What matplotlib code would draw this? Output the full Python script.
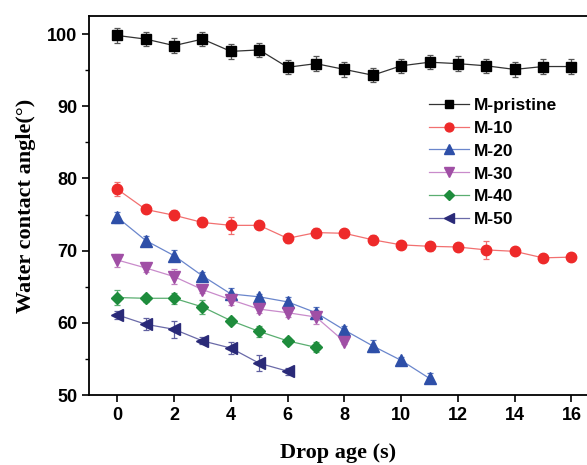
import numpy as np
import matplotlib
matplotlib.use("Agg")
from matplotlib import pyplot as plt
from matplotlib.lines import Line2D

# drop age (s)
t_pristine = list(range(17))
t_m10 = list(range(17))
t_m20 = list(range(12))
t_m30 = list(range(9))
t_m40 = list(range(8))
t_m50 = list(range(7))

pristine = [99.8, 99.3, 98.4, 99.3, 97.6, 97.8, 95.4, 95.9, 95.1, 94.3, 95.6, 96.1, 95.9, 95.6, 95.1, 95.5, 95.5]
pristine_err = [1.0, 1.0, 1.0, 1.0, 1.0, 1.0, 1.0, 1.0, 1.0, 1.0, 1.0, 1.0, 1.0, 1.0, 1.0, 1.0, 1.0]
m10 = [78.5, 75.7, 74.9, 73.9, 73.5, 73.5, 71.7, 72.5, 72.4, 71.5, 70.8, 70.6, 70.5, 70.1, 69.9, 69.0, 69.1]
m10_err = [1.0, 0.3, 0.7, 0.6, 1.2, 0.3, 0.6, 0.6, 0.3, 0.6, 0.4, 0.6, 0.5, 1.2, 0.3, 0.6, 0.6]
m20 = [74.6, 71.4, 69.3, 66.5, 64.0, 63.6, 62.9, 61.4, 59.0, 56.8, 54.8, 52.3]
m20_err = [0.8, 0.6, 0.8, 0.5, 0.8, 0.4, 0.7, 0.8, 0.5, 0.8, 0.4, 0.7]
m30 = [68.7, 67.6, 66.4, 64.6, 63.2, 61.9, 61.4, 60.8, 57.4]
m30_err = [0.9, 0.5, 1.0, 0.5, 0.8, 0.5, 0.6, 1.0, 0.4]
m40 = [63.5, 63.4, 63.4, 62.2, 60.3, 58.8, 57.5, 56.6]
m40_err = [1.0, 0.5, 0.8, 1.0, 0.4, 0.8, 0.4, 0.7]
m50 = [61.1, 59.8, 59.1, 57.5, 56.5, 54.4, 53.3]
m50_err = [0.6, 0.8, 1.2, 0.5, 0.8, 1.1, 0.5]

series = [
    ("M-pristine", t_pristine, pristine, pristine_err, "s", "black", "#333333", "#555555", 6.5),
    ("M-10", t_m10, m10, m10_err, "o", "#EE2A2A", "#F27070", "#F07070", 7.5),
    ("M-20", t_m20, m20, m20_err, "^", "#2E4FA8", "#6A86CC", "#5A78C0", 8),
    ("M-30", t_m30, m30, m30_err, "v", "#A04FA5", "#C98BCB", "#C080C0", 8),
    ("M-40", t_m40, m40, m40_err, "D", "#1E8C3C", "#5AAE70", "#5AAE70", 6),
    ("M-50", t_m50, m50, m50_err, "<", "#2A2A78", "#6A6AA8", "#6060A0", 8),
]

fig = plt.figure(figsize=(5.87, 4.65), dpi=100)
ax = fig.add_axes([0.1516, 0.1505, 0.8484, 0.8151])

handles = []
for name, x, y, e, m, c, lc, ec, ms in series:
    ax.errorbar(x, y, yerr=e, fmt="-", marker=m, color=lc, mfc=c, mec=c, ms=ms,
                lw=0.9, ecolor=ec, elinewidth=0.9, capsize=2.5, capthick=0.9)
    handles.append(Line2D([], [], color=lc, lw=0.9, marker=m, mfc=c, mec=c,
                          ms=ms * 0.85, label=name))

ax.set_xlim(-1, 16.55)
ax.set_ylim(50, 102.5)
ax.set_xticks(range(0, 17, 2))
ax.set_yticks(range(50, 101, 10))
ax.set_yticks(range(55, 101, 10), minor=True)

tick_font = {"family": "Liberation Sans", "weight": "bold", "size": 13}
ax.set_xticklabels([str(v) for v in range(0, 17, 2)], fontdict=tick_font)
ax.set_yticklabels([str(v) for v in range(50, 101, 10)], fontdict=tick_font)
ax.tick_params(direction="out", length=5, width=1.2)
ax.tick_params(which="minor", direction="out", length=3, width=1.0)
ax.spines["right"].set_visible(False)
for s in ["left", "top", "bottom"]:
    ax.spines[s].set_linewidth(1.3)

label_font = {"family": "Liberation Serif", "weight": "bold", "size": 16}
ax.set_xlabel("Drop age (s)", fontdict=label_font, labelpad=14)
ax.set_ylabel("Water contact angle(°)", fontdict=label_font, labelpad=8)

ax.legend(handles=handles, loc="upper left", bbox_to_anchor=(0.683, 0.785),
          frameon=False, borderpad=0, borderaxespad=0,
          prop={"family": "Liberation Sans", "weight": "bold", "size": 12.5},
          handlelength=2.3, handletextpad=0.3, labelspacing=0.45)

fig.savefig("out.png", dpi=100)
